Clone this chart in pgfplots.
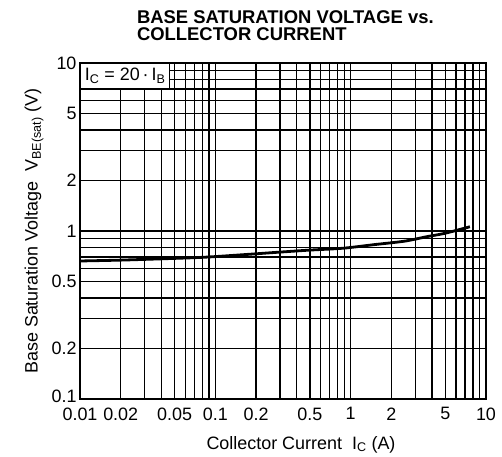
\documentclass[border=0pt]{standalone}
\usepackage{fontspec}
\setmainfont{Liberation Sans}
\usepackage{pgfplots}
\pgfplotsset{compat=1.18}

\begin{document}
\begin{tikzpicture}
\begin{loglogaxis}[
    at={(0,0)}, anchor=south west,
    scale only axis,
    width=406bp, height=336bp,
    xmin=0.01, xmax=10, ymin=0.1, ymax=10,
    xtick={0.01,0.02,0.05,0.1,0.2,0.5,1,2,5,10},
    xticklabels={0.01,0.02,0.05,0.1,0.2,0.5,1,2,5,10},
    ytick={0.1,0.2,0.5,1,2,5,10},
    yticklabels={\raisebox{5bp}{0.1},0.2,0.5,1,2,5,10},
    minor xtick={0.03,0.04,0.06,0.07,0.08,0.09,0.3,0.4,0.6,0.7,0.8,0.9,3,4,6,7,8,9},
    minor ytick={0.3,0.4,0.6,0.7,0.8,0.9,3,4,6,7,8,9},
    grid=both,
    major grid style={black, line width=1.5bp},
    minor grid style={black, line width=1.3bp},
    axis line style={black, line width=2bp},
    major tick length=0pt, minor tick length=0pt,
    ticklabel style={font=\fontsize{18}{18}\selectfont},
    xticklabel style={yshift=-5bp},
    title={BASE SATURATION VOLTAGE vs.\\COLLECTOR CURRENT},
    title style={at={(rel axis cs:0.140,1)}, anchor=south west, inner sep=0pt,
        yshift=16bp, align=left, font=\bfseries\fontsize{18.5}{17}\selectfont},
    xlabel={Collector Current\ \ I\textsubscript{C} (A)},
    xlabel style={at={(axis description cs:0.5,0)}, anchor=base, xshift=18bp,
        yshift=-50bp, font=\fontsize{18}{18}\selectfont},
    ylabel={Base Saturation Voltage\ \ V\textsubscript{BE(sat)} (V)},
    ylabel style={at={(axis description cs:0,0.5)}, anchor=center,
        yshift=46bp, font=\fontsize{18}{18}\selectfont},
]
\addplot[black, line width=2.8bp, smooth] coordinates {
    (0.01,0.663) (0.02,0.671) (0.04,0.683) (0.08,0.697) (0.15,0.72)
    (0.28,0.746) (0.5,0.77) (0.88,0.79) (1.5,0.83) (2.5,0.87)
    (3.65,0.925) (5,0.97) (7.6,1.06)
};
\node[draw=black, line width=1.4bp, fill=white, anchor=north west, inner sep=0pt,
    minimum width=89bp, minimum height=25bp, font=\fontsize{18}{18}\selectfont]
    at (rel axis cs:0,1) {I\textsubscript{C} = 20\,·\,I\textsubscript{B}};
\end{loglogaxis}
\path (-80bp,-58bp) rectangle (422bp,399bp);
\end{tikzpicture}
\end{document}
